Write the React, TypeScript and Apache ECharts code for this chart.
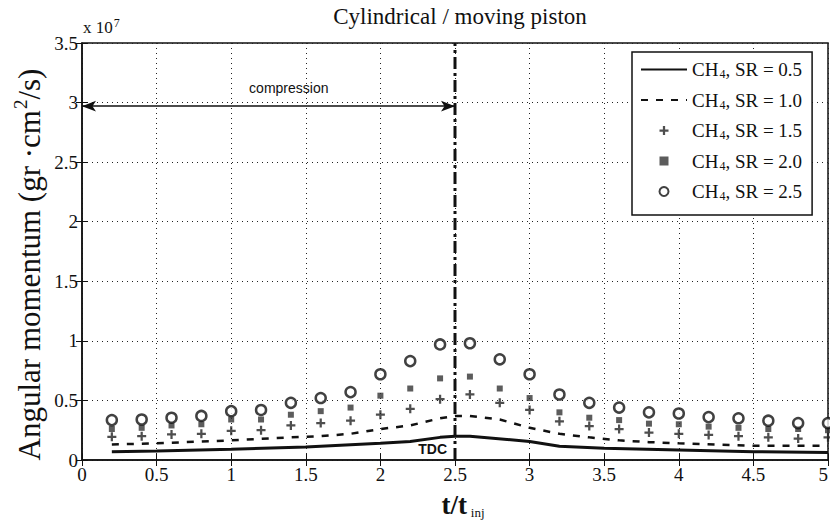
import React, { useEffect, useRef } from "react";
import * as echarts from "echarts";

const xTicks = ["0", "0.5", "1", "1.5", "2", "2.5", "3", "3.5", "4", "4.5", "5"];
const yTicks = ["0", "0.5", "1", "1.5", "2", "2.5", "3", "3.5"];

// marker positions (t/t_inj)
const markX = [0.2, 0.4, 0.6, 0.8, 1.0, 1.2, 1.4, 1.6, 1.8, 2.0, 2.2, 2.4, 2.6, 2.8, 3.0, 3.2, 3.4, 3.6, 3.8, 4.0, 4.2, 4.4, 4.6, 4.8, 5.0];
// values in units of 1e7
const sr15 = [0.195, 0.2, 0.215, 0.22, 0.245, 0.25, 0.29, 0.31, 0.33, 0.38, 0.43, 0.51, 0.55, 0.48, 0.42, 0.325, 0.285, 0.26, 0.23, 0.22, 0.21, 0.2, 0.19, 0.18, 0.19];
const sr20 = [0.26, 0.27, 0.29, 0.3, 0.34, 0.34, 0.38, 0.41, 0.44, 0.54, 0.6, 0.685, 0.7, 0.6, 0.52, 0.4, 0.355, 0.335, 0.305, 0.3, 0.28, 0.27, 0.26, 0.26, 0.25];
const sr25 = [0.335, 0.34, 0.355, 0.37, 0.41, 0.42, 0.48, 0.52, 0.57, 0.72, 0.83, 0.97, 0.98, 0.845, 0.72, 0.55, 0.48, 0.44, 0.4, 0.39, 0.36, 0.35, 0.33, 0.31, 0.31];

const line05X = [0.2, 0.5, 1, 1.5, 2, 2.2, 2.4, 2.5, 2.6, 3, 3.2, 3.5, 4, 4.5, 5];
const sr05 = [0.07, 0.075, 0.09, 0.11, 0.14, 0.155, 0.19, 0.2, 0.2, 0.155, 0.115, 0.098, 0.084, 0.07, 0.062];
const line10X = [0.2, 0.5, 1, 1.4, 1.6, 1.8, 2, 2.2, 2.4, 2.5, 2.6, 2.8, 3, 3.2, 3.4, 3.6, 3.8, 4, 4.5, 5];
const sr10 = [0.13, 0.14, 0.165, 0.19, 0.2, 0.22, 0.26, 0.29, 0.35, 0.37, 0.37, 0.34, 0.27, 0.22, 0.19, 0.165, 0.15, 0.14, 0.12, 0.12];

const tdcX = [2.5, 2.5];
const tdcY = [0, 3.5];
const compressionY = 2.97;

const names = ["SR = 0.5", "SR = 1.0", "SR = 1.5", "SR = 2.0", "SR = 2.5"];

const serif = "'Liberation Serif', 'Times New Roman', serif";
const sans = "'Liberation Sans', Arial, sans-serif";

function zip(xs: number[], ys: number[]) {
  return xs.map((x, i) => [x, ys[i]]);
}

export default function App() {
  const ref = useRef<HTMLDivElement>(null);
  useEffect(() => {
    const chart = echarts.init(ref.current!, undefined, { renderer: "svg" });
    const plusPath = "path://M3,0h2v3h3v2h-3v3h-2v-3h-3v-2h3z";
    const squarePath = "path://M0,0h6v6h-6z";
    const gridLine = { show: true, lineStyle: { color: "#222", type: [1, 4] as any, width: 1 } };
    chart.setOption({
      animation: false,
      backgroundColor: "#fff",
      textStyle: { fontFamily: serif },
      title: {
        text: "Cylindrical / moving piston",
        left: 455,
        textAlign: "center",
        top: 0,
        textStyle: { fontFamily: serif, fontSize: 23, fontWeight: "normal", color: "#111" },
      },
      grid: {
        left: 82,
        right: 2,
        top: 43,
        bottom: 63,
        show: true,
        borderColor: "#111",
        borderWidth: 1.5,
        backgroundColor: "transparent",
        outerBoundsMode: "none",
        containLabel: false,
      } as any,
      legend: {
        data: names,
        orient: "vertical",
        left: 632,
        top: 52,
        backgroundColor: "#fff",
        borderColor: "#111",
        borderWidth: 1.5,
        borderRadius: 0,
        padding: [8, 10, 13, 8],
        itemGap: 10.5,
        itemWidth: 46,
        itemHeight: 9,
        textStyle: {
          fontFamily: serif,
          fontSize: 19,
          color: "#111",
          rich: {
            a: { fontFamily: serif, fontSize: 19, color: "#111", lineHeight: 21 },
            s: { fontFamily: serif, fontSize: 12, color: "#111", verticalAlign: "bottom", padding: [9, 0, 0, 1] },
          },
        },
        formatter: (n: string) => `{a|CH}{s|4}{a|, ${n}}`,
      },
      xAxis: [
        {
          type: "value",
          min: 0,
          max: 5,
          interval: 0.5,
          axisLine: { show: true, lineStyle: { color: "#111", width: 1.5 } },
          axisTick: { show: true, inside: true, length: 6, lineStyle: { color: "#111" } },
          axisLabel: {
            fontFamily: serif,
            fontSize: 19,
            color: "#111",
            margin: 5,
            alignMaxLabel: "right",
            formatter: (v: number) => xTicks[Math.round(v * 2)],
          },
          splitLine: gridLine,
          name: "{a|t/t}{s|inj}",
          nameLocation: "middle",
          nameMoveOverlap: false,
          nameGap: 31,
          nameTextStyle: {
            padding: [0, 0, 0, 16],
            rich: {
              a: { fontFamily: serif, fontSize: 27, fontWeight: "bold", color: "#111", lineHeight: 28, verticalAlign: "top" },
              s: { fontFamily: serif, fontSize: 13, color: "#111", lineHeight: 14, verticalAlign: "bottom", padding: [28, 0, 0, 4] },
            },
          },
        },
        {
          type: "value",
          position: "top",
          min: 0,
          max: 5,
          interval: 0.5,
          axisLine: { show: false },
          axisTick: { show: true, inside: true, length: 6, lineStyle: { color: "#111" } },
          axisLabel: { show: false },
          splitLine: { show: false },
        },
      ],
      yAxis: [
        {
          type: "value",
          min: 0,
          max: 3.5,
          interval: 0.5,
          axisLine: { show: true, lineStyle: { color: "#111", width: 1.5 } },
          axisTick: { show: true, inside: true, length: 6, lineStyle: { color: "#111" } },
          axisLabel: { fontFamily: serif, fontSize: 19, color: "#111", margin: 4, formatter: (v: number) => yTicks[Math.round(v * 2)] },
          splitLine: gridLine,
          name: "{a|Angular momentum (gr ·cm}{b|2}{a|/s)}",
          nameLocation: "middle",
          nameMoveOverlap: false,
          nameGap: 37,
          nameTextStyle: {
            padding: [0, 26, 0, 0],
            rich: {
              a: { fontFamily: serif, fontSize: 31, color: "#111", lineHeight: 34, verticalAlign: "bottom" },
              b: { fontFamily: serif, fontSize: 19, color: "#111", lineHeight: 20, verticalAlign: "top", padding: [0, 0, 0, 1] },
            },
          },
        },
        {
          type: "value",
          position: "right",
          min: 0,
          max: 3.5,
          interval: 0.5,
          axisLine: { show: false },
          axisTick: { show: true, inside: true, length: 6, lineStyle: { color: "#111" } },
          axisLabel: { show: false },
          splitLine: { show: false },
        },
      ],
      graphic: [
        {
          type: "text",
          left: 83,
          top: 17,
          style: {
            text: "{a|x 10}{b|7}",
            rich: {
              a: { fontFamily: serif, fontSize: 17, fill: "#111", lineHeight: 20 },
              b: { fontFamily: serif, fontSize: 12, fill: "#111", verticalAlign: "top", padding: [0, 0, 9, 1] },
            },
          },
        },
      ],
      series: [
        {
          name: names[0],
          type: "line",
          data: zip(line05X, sr05),
          showSymbol: false,
          symbol: "circle",
          lineStyle: { color: "#111", width: 3 },
          itemStyle: { color: "rgba(0,0,0,0)" },
        },
        {
          name: names[1],
          type: "line",
          data: zip(line10X, sr10),
          showSymbol: false,
          symbol: "circle",
          lineStyle: { color: "#111", width: 2.5, type: [7, 8] },
          itemStyle: { color: "rgba(0,0,0,0)" },
        },
        {
          name: names[2],
          type: "scatter",
          data: zip(markX, sr15),
          symbol: plusPath,
          symbolKeepAspect: true,
          symbolSize: 9,
          itemStyle: { color: "#222" },
        },
        {
          name: names[3],
          type: "scatter",
          data: zip(markX, sr20),
          symbol: squarePath,
          symbolKeepAspect: true,
          symbolSize: 6,
          itemStyle: { color: "#333" },
        },
        {
          name: names[4],
          type: "scatter",
          data: zip(markX, sr25),
          symbol: "circle",
          symbolSize: 10,
          itemStyle: { color: "#fff", borderColor: "#111", borderWidth: 2.5 },
        },
        {
          name: "TDC",
          type: "line",
          data: zip(tdcX, tdcY),
          showSymbol: false,
          symbol: "none",
          lineStyle: { color: "#111", width: 3, type: [12, 4, 3, 4] },
          label: { show: false },
          markLine: {
            silent: true,
            symbol: ["arrow", "arrow"],
            symbolSize: [8, 14],
            lineStyle: { color: "#111", width: 1.5, type: "solid" },
            label: { show: false },
            data: [[{ coord: [0, compressionY] }, { coord: [2.5, compressionY] }]],
          },
          markPoint: {
            symbol: "rect",
            symbolSize: 0,
            data: [
              {
                coord: [1.386, compressionY],
                label: { show: true, formatter: "compression", fontFamily: sans, fontSize: 14, color: "#111", offset: [0, -18] },
              },
              {
                coord: [2.35, 0.1],
                label: { show: true, formatter: "TDC", fontFamily: sans, fontSize: 14, fontWeight: "bold", color: "#111", offset: [0, 1] },
              },
            ],
          },
        },
      ],
    });
    return () => chart.dispose();
  }, []);
  return <div ref={ref} style={{ width: 830, height: 523, position: "absolute", left: 0, top: 0 }} />;
}
